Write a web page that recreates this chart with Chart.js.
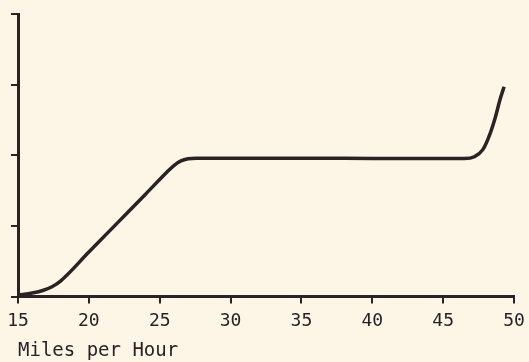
<!DOCTYPE html>
<html>
<head>
<meta charset="utf-8">
<script src="https://cdn.jsdelivr.net/npm/chart.js@4/dist/chart.umd.min.js"></script>
<style>
  html, body { margin:0; padding:0; background:#fdf6e7; }
  #wrap { width:529px; height:362px; }
</style>
</head>
<body>
<div id="wrap"><canvas id="chart"></canvas></div>
<script>
// curve (miles per hour vs. unlabelled y)
const mph    = [15, 16, 16.8, 17.4, 18, 20, 22, 24, 25.5, 26, 26.5, 27, 27.6, 32, 36, 40, 44, 46.5, 47.2, 47.8, 48.3, 48.7, 49.0, 49.3];
const values = [0.02, 0.05, 0.09, 0.14, 0.22, 0.63, 1.04, 1.45, 1.76, 1.855, 1.92, 1.95, 1.96, 1.96, 1.96, 1.955, 1.955, 1.955, 1.98, 2.08, 2.3, 2.55, 2.78, 2.97];
const xTicks = [15, 20, 25, 30, 35, 40, 45, 50];
const xTitle = "Miles per Hour";

const INK = "#2a2224";
const FONT = "'DejaVu Sans Mono', monospace";

const ctx = document.getElementById("chart").getContext("2d");
new Chart(ctx, {
  type: 'line',
  data: {
    datasets: [{
      data: mph.map((x, i) => ({x: x, y: values[i]})),
      borderColor: INK,
      borderWidth: 3.5,
      pointRadius: 0,
      cubicInterpolationMode: 'monotone',
      fill: false
    }]
  },
  options: {
    responsive: true,
    maintainAspectRatio: false,
    animation: false,
    layout: { padding: { left: 11, right: 15, top: 14, bottom: 0 } },
    plugins: { legend: { display: false }, tooltip: { enabled: false } },
    scales: {
      x: {
        type: 'linear', min: 15, max: 50,
        afterBuildTicks: s => { s.ticks = xTicks.map(v => ({value: v})); },
        afterFit: s => { s.paddingRight = 0; s.paddingLeft = 0; },
        grid: { drawOnChartArea: false, color: INK, lineWidth: 2, tickLength: 7 },
        border: { display: true, color: INK, width: 3 },
        ticks: { color: INK, font: { family: FONT, size: 18 }, padding: 7, maxRotation: 0 },
        title: { display: true, text: xTitle, align: 'start', color: INK,
                 font: { family: FONT, size: 19 }, padding: { top: 0, bottom: 0 } }
      },
      y: {
        type: 'linear', min: 0, max: 4,
        ticks: { display: false, stepSize: 1 },
        grid: { drawOnChartArea: false, color: INK, lineWidth: 2, tickLength: 7 },
        border: { display: true, color: INK, width: 3 }
      }
    }
  }
});
</script>
</body>
</html>
